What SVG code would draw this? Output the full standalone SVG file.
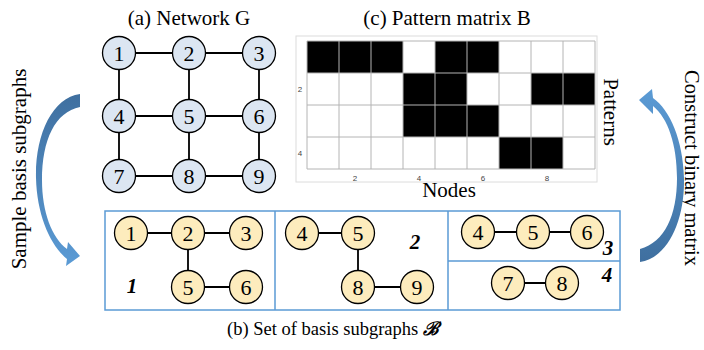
<svg xmlns="http://www.w3.org/2000/svg" width="704" height="350" viewBox="0 0 704 350">
<style>
.t{font-family:"Liberation Serif","Times New Roman",serif;fill:#000}
.title{font-size:21px}
.nl{font-size:22px;text-anchor:middle;dominant-baseline:central}
.gb{fill:#dce6f2;stroke:#000;stroke-width:1.3}
.gy{fill:#fdecbd;stroke:#000;stroke-width:1.3}
.e{stroke:#000;stroke-width:1.8;fill:none}
.frame{fill:none;stroke:#5b9bd5;stroke-width:1.5}
.blk{fill:#000}
.gl{stroke:#b4b4b4;stroke-width:1;fill:none}
.tick{font-family:"Liberation Sans","DejaVu Sans",sans-serif;font-size:8px;fill:#444;text-anchor:middle;dominant-baseline:central}
.sid{font-family:"Liberation Serif","Times New Roman",serif;font-size:21px;font-weight:bold;font-style:italic;text-anchor:middle}
</style>
<defs>
<linearGradient id="gl" x1="0" y1="0" x2="0" y2="1">
<stop offset="0" stop-color="#3f6f9f"/>
<stop offset="1" stop-color="#5b9bd5"/>
</linearGradient>
<linearGradient id="gr" x1="0" y1="1" x2="0" y2="0">
<stop offset="0" stop-color="#3f6f9f"/>
<stop offset="1" stop-color="#5b9bd5"/>
</linearGradient>
</defs>
<rect width="704" height="350" fill="#fff"/>

<!-- titles -->
<text class="t title" x="189" y="25" text-anchor="middle">(a) Network G</text>
<text class="t title" x="447" y="25" text-anchor="middle">(c) Pattern matrix B</text>
<text class="t title" x="449" y="197" text-anchor="middle">Nodes</text>
<text class="t title" transform="translate(604,112) rotate(90)" text-anchor="middle">Patterns</text>
<text class="t" font-size="20.5" transform="translate(685,168) rotate(90)" text-anchor="middle">Construct binary matrix</text>
<text class="t" font-size="21" transform="translate(26,169) rotate(-90)" text-anchor="middle">Sample basis subgraphs</text>
<text class="t" font-size="18.5" x="333" y="335" text-anchor="middle">(b) Set of basis subgraphs <tspan font-weight="bold" font-style="italic">ℬ</tspan></text>

<!-- curved arrows -->
<g id="arrow-left">
<path fill="url(#gl)" d="M80 94 C52 98 35 135 36 178 C37 215 50 245 67 259 L66 266 L80 256 L68 242 L67 249 C52 238 42 212 42 180 C42 140 55 112 80 107 Z"/>
</g>
<g id="arrow-right">
<path fill="url(#gr)" d="M640 262 C668 258 685 220 684 178 C683 140 670 110 653 98 L652 89 L639 100 L653 114 L653 106 C668 118 677 145 677 178 C677 215 665 242 640 249 Z"/>
</g>

<!-- Network G -->
<g id="connectors">
<path class="e" d="M119 53H259M119 116H259M119 176H259M119 53V176M189 53V176M259 53V176"/>
<path class="e" d="M131 233H246M188 233V287M188 287H246"/>
<path class="e" d="M302 233H358M358 233V287M358 287H417"/>
<path class="e" d="M478 232H587M508 283H562"/>
</g>
<g id="g1"><circle class="gb" cx="119" cy="53" r="16.5"/><text class="t nl" x="119" y="53">1</text></g>
<g id="g2"><circle class="gb" cx="189" cy="53" r="16.5"/><text class="t nl" x="189" y="53">2</text></g>
<g id="g3"><circle class="gb" cx="259" cy="53" r="16.5"/><text class="t nl" x="259" y="53">3</text></g>
<g id="g4"><circle class="gb" cx="119" cy="116" r="16.5"/><text class="t nl" x="119" y="116">4</text></g>
<g id="g5"><circle class="gb" cx="189" cy="116" r="16.5"/><text class="t nl" x="189" y="116">5</text></g>
<g id="g6"><circle class="gb" cx="259" cy="116" r="16.5"/><text class="t nl" x="259" y="116">6</text></g>
<g id="g7"><circle class="gb" cx="119" cy="176" r="16.5"/><text class="t nl" x="119" y="176">7</text></g>
<g id="g8"><circle class="gb" cx="189" cy="176" r="16.5"/><text class="t nl" x="189" y="176">8</text></g>
<g id="g9"><circle class="gb" cx="259" cy="176" r="16.5"/><text class="t nl" x="259" y="176">9</text></g>

<!-- Pattern matrix -->
<g id="matrix">
<rect x="296" y="36" width="301" height="146" fill="#fff" stroke="#dcdcdc" stroke-width="1"/>
<rect class="blk" x="307" y="41" width="96" height="32"/>
<rect class="blk" x="435" y="41" width="64" height="32"/>
<rect class="blk" x="403" y="73" width="64" height="32"/>
<rect class="blk" x="531" y="73" width="64" height="32"/>
<rect class="blk" x="403" y="105" width="96" height="32"/>
<rect class="blk" x="499" y="137" width="64" height="32"/>
<path class="gl" d="M307 41H595M307 73H595M307 105H595M307 137H595M307 169H595M307 41V169M339 41V169M371 41V169M403 41V169M435 41V169M467 41V169M499 41V169M531 41V169M563 41V169M595 41V169"/>
<text class="tick" x="300" y="89">2</text>
<text class="tick" x="300" y="153">4</text>
<text class="tick" x="355" y="178">2</text>
<text class="tick" x="419" y="178">4</text>
<text class="tick" x="483" y="178">6</text>
<text class="tick" x="547" y="178">8</text>
</g>

<!-- basis subgraphs panel -->
<g id="panel">
<rect class="frame" x="105" y="211" width="515" height="99"/>
<path class="frame" d="M275 211V310M448 211V310M448 261H620"/>
</g>
<g id="s1">
<g id="s1n1"><circle class="gy" cx="131" cy="233" r="16.5"/><text class="t nl" x="131" y="233">1</text></g>
<g id="s1n2"><circle class="gy" cx="188" cy="233" r="16.5"/><text class="t nl" x="188" y="233">2</text></g>
<g id="s1n3"><circle class="gy" cx="246" cy="233" r="16.5"/><text class="t nl" x="246" y="233">3</text></g>
<g id="s1n5"><circle class="gy" cx="188" cy="287" r="16.5"/><text class="t nl" x="188" y="287">5</text></g>
<g id="s1n6"><circle class="gy" cx="246" cy="287" r="16.5"/><text class="t nl" x="246" y="287">6</text></g>
<text class="sid" x="132" y="293">1</text>
</g>
<g id="s2">
<g id="s2n4"><circle class="gy" cx="302" cy="233" r="16.5"/><text class="t nl" x="302" y="233">4</text></g>
<g id="s2n5"><circle class="gy" cx="358" cy="233" r="16.5"/><text class="t nl" x="358" y="233">5</text></g>
<g id="s2n8"><circle class="gy" cx="358" cy="287" r="16.5"/><text class="t nl" x="358" y="287">8</text></g>
<g id="s2n9"><circle class="gy" cx="417" cy="287" r="16.5"/><text class="t nl" x="417" y="287">9</text></g>
<text class="sid" x="415" y="249">2</text>
</g>
<g id="s3">
<g id="s3n4"><circle class="gy" cx="478" cy="232" r="16.5"/><text class="t nl" x="478" y="232">4</text></g>
<g id="s3n5"><circle class="gy" cx="533" cy="232" r="16.5"/><text class="t nl" x="533" y="232">5</text></g>
<g id="s3n6"><circle class="gy" cx="587" cy="232" r="16.5"/><text class="t nl" x="587" y="232">6</text></g>
<text class="sid" x="608" y="255">3</text>
</g>
<g id="s4">
<g id="s4n7"><circle class="gy" cx="508" cy="283" r="16.5"/><text class="t nl" x="508" y="283">7</text></g>
<g id="s4n8"><circle class="gy" cx="562" cy="283" r="16.5"/><text class="t nl" x="562" y="283">8</text></g>
<text class="sid" x="607" y="282">4</text>
</g>
</svg>
